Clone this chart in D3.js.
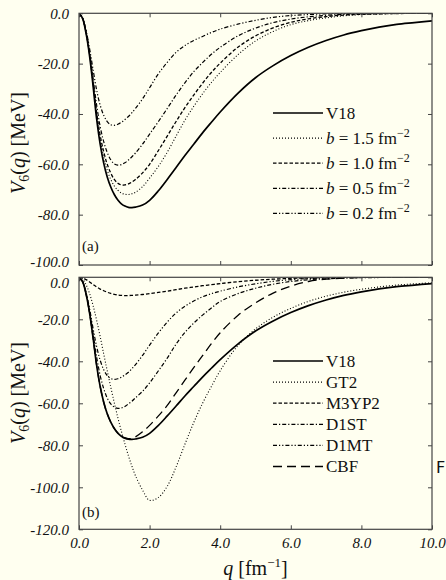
<!DOCTYPE html>
<html>
<head>
<meta charset="utf-8">
<script src="https://cdn.jsdelivr.net/npm/d3@7"></script>
<style>
  html, body { margin: 0; padding: 0; background: #fffff0; }
  svg { display: block; }
  text { font-family: "Liberation Serif", "DejaVu Serif", serif; fill: #111; }
</style>
</head>
<body>
<div id="chart"></div>
<script>
// momentum grid (fm^-1), shared by every curve
const q = [0, 0.1, 0.2, 0.3, 0.4, 0.5, 0.6, 0.7, 0.8, 0.9, 1.0, 1.1, 1.2, 1.3, 1.4, 1.5, 1.6, 1.8, 2.0,
  2.25, 2.5, 2.75, 3.0, 3.25, 3.5, 3.75, 4.0, 4.5, 5.0, 5.5, 6.0, 6.5, 7.0, 7.5, 8.0, 8.5, 9.0, 9.5, 10];

// V6(q) in MeV
const v18 = [0, -2, -8, -17, -29, -42, -52, -59.5, -65, -69, -72, -74.2, -75.7, -76.6, -77.1, -77.2, -77.0, -76.2, -74.3,
  -70.5, -66, -61.3, -56.5, -52, -47.5, -43.3, -39.2, -31.8, -25.6, -20.8, -16.8, -13.5, -10.8, -8.6, -6.9, -5.5, -4.4, -3.7, -3.0];

// panel (a): V18 with different b
const b15 = [0, -2, -7.8, -16.5, -28, -40.5, -50, -57, -62.3, -66, -68.6, -70.3, -71.4, -71.9, -72, -71.7, -71.1, -68.9, -65.5,
  -60.8, -55.2, -48.8, -42.5, -37, -32, -27.5, -23.5, -16.5, -11, -7.2, -4.5, -2.9, -1.8, -1.0, -0.5, -0.3, -0.1, 0, 0];
const b10 = [0, -2, -7.6, -16.2, -27.5, -39.5, -48.5, -55, -60, -63.5, -66, -67.5, -68.2, -68.2, -67.8, -67, -66, -63.4, -60,
  -54.5, -48.8, -43, -37.5, -32.5, -27.8, -23.5, -19.8, -13.5, -9, -5.8, -3.6, -2.2, -1.3, -0.7, -0.4, -0.2, -0.1, 0, 0];
const b05 = [0, -2, -7.3, -15.5, -26, -36.5, -45, -51, -55.3, -58.2, -59.8, -60.3, -60.1, -59.4, -58.3, -57, -55.5, -52, -48,
  -43, -37.8, -32.5, -27.6, -23.2, -19.6, -16.3, -13.5, -9, -5.9, -3.7, -2.3, -1.4, -0.8, -0.4, -0.2, -0.1, 0, 0, 0];
const b02 = [0, -1.8, -6.8, -14, -22.5, -30.5, -36.5, -40.5, -43, -44.3, -44.5, -44.1, -43.3, -42.2, -41, -39.5, -37.8, -34, -29.6,
  -24, -19.5, -15.5, -12.8, -10.8, -9.2, -7.6, -6.3, -4.3, -2.8, -1.6, -0.9, -0.5, -0.2, -0.1, 0, 0, 0, 0, 0];

// panel (b): other interactions
const gt2 = [0, -0.8, -3.5, -7.8, -13.5, -20.5, -28.2, -36.5, -44.5, -52.3, -59.8, -66.8, -73.3, -79.3, -85, -90, -94.5, -101.3, -106.2,
  -104.8, -99.5, -90.3, -79.5, -69.2, -60, -52, -44.5, -32.5, -24.6, -19, -14.8, -11.5, -9, -7.1, -5.7, -4.6, -3.7, -3.1, -2.6];
const m3yp2 = [0, -0.3, -1.1, -2.2, -3.5, -4.6, -5.6, -6.4, -7.1, -7.7, -8.1, -8.4, -8.6, -8.7, -8.7, -8.6, -8.5, -8.2, -7.8,
  -7.2, -6.6, -5.9, -5.2, -4.6, -4.0, -3.5, -3.0, -2.1, -1.4, -0.9, -0.5, -0.3, -0.1, 0, 0, 0, 0, 0, 0];
const d1st = [0, -2, -7.5, -16, -27, -38, -46.8, -53, -57.5, -60.3, -61.8, -62.4, -62.2, -61.5, -60.3, -59, -57.4, -54.3, -50.3,
  -44.5, -38.5, -31.8, -26.3, -21.8, -18, -14.6, -11.5, -7.8, -5.2, -3.3, -2.0, -1.2, -0.7, -0.4, -0.2, -0.1, 0, 0, 0];
const d1mt = [0, -2, -7.2, -15, -24.5, -33, -39.5, -44, -46.8, -48.2, -48.6, -48.3, -47.6, -46.5, -45.2, -43.5, -41.6, -37.2, -32.3,
  -26.5, -21.3, -17, -13.8, -11.3, -9.3, -7.8, -6.6, -4.6, -3.1, -1.9, -1.1, -0.6, -0.3, -0.1, 0, 0, 0, 0, 0];
const cbf = [0, -2, -8, -17, -29, -42, -52, -59.5, -65, -69, -72, -74.2, -75.7, -76.5, -76.8, -76.7, -76, -73.6, -70.5,
  -66, -61, -55, -49, -43, -37.3, -31.6, -26.4, -18.2, -12.2, -7.5, -4.2, -2.0, -0.9, -0.4, -0.1, 0, 0, 0, 0];

const xTicks = [0, 2, 4, 6, 8, 10];
const yTicksA = [0, -20, -40, -60, -80, -100];
const yTicksB = [0, -20, -40, -60, -80, -100, -120];

const width = 446, height = 580;
const left = 79, right = 432;

const svg = d3.select("#chart").append("svg")
  .attr("width", width)
  .attr("height", height);

svg.append("rect").attr("width", width).attr("height", height).attr("fill", "#fffff0");

const x = d3.scaleLinear().domain([0, 10]).range([left, right]);

// dash patterns for the line styles
const styles = {
  solid: { dash: null, w: 1.7 },
  dot: { dash: "1,2", w: 1.1 },
  dash: { dash: "3.5,2", w: 1.3 },
  dashdot: { dash: "4,2,1.2,2", w: 1.2 },
  dashdotdot: { dash: "4,2,1.2,2,1.2,2", w: 1.2 },
  longdash: { dash: "9,5", w: 1.3 }
};

const panels = [
  {
    id: "a", top: 13.3, bottom: 265, domain: [-100, 0], ticks: yTicksA, titleY: 143, tag: "(a)", tagY: 251,
    legendY: 113, legendStep: 25.1, showX: false,
    series: [
      { name: "V18", v: v18, style: "solid" },
      { name: ["b", " = 1.5 fm", "−2"], v: b15, style: "dot" },
      { name: ["b", " = 1.0 fm", "−2"], v: b10, style: "dash" },
      { name: ["b", " = 0.5 fm", "−2"], v: b05, style: "dashdot" },
      { name: ["b", " = 0.2 fm", "−2"], v: b02, style: "dashdotdot" }
    ]
  },
  {
    id: "b", top: 277.3, bottom: 529.3, domain: [-120, 0], ticks: yTicksB, titleY: 393, tag: "(b)", tagY: 517,
    legendY: 361, legendStep: 21.1, showX: true,
    series: [
      { name: "V18", v: v18, style: "solid" },
      { name: "GT2", v: gt2, style: "dot" },
      { name: "M3YP2", v: m3yp2, style: "dash" },
      { name: "D1ST", v: d1st, style: "dashdot" },
      { name: "D1MT", v: d1mt, style: "dashdotdot" },
      { name: "CBF", v: cbf, style: "longdash" }
    ]
  }
];

panels.forEach(p => {
  const y = d3.scaleLinear().domain(p.domain).range([p.bottom, p.top]);
  const g = svg.append("g").attr("id", "panel-" + p.id);

  g.append("clipPath").attr("id", "clip-" + p.id)
    .append("rect")
    .attr("x", left).attr("y", p.top)
    .attr("width", right - left).attr("height", p.bottom - p.top);

  // curves
  const line = d3.line()
    .x((d, i) => x(q[i]))
    .y(d => y(d))
    .curve(d3.curveCatmullRom.alpha(0.5));

  g.append("g").attr("clip-path", `url(#clip-${p.id})`)
    .selectAll("path")
    .data(p.series.slice().reverse())
    .join("path")
    .attr("fill", "none")
    .attr("stroke", "#000")
    .attr("stroke-width", d => styles[d.style].w)
    .attr("stroke-dasharray", d => styles[d.style].dash)
    .attr("d", d => line(d.v));

  // inward ticks on all four sides
  const axisStyle = sel => {
    sel.attr("font-family", null);
    sel.select(".domain").remove();
    sel.selectAll(".tick line").attr("stroke", "#444").attr("stroke-width", 1);
    sel.selectAll(".tick text")
      .style("font-family", "'Liberation Serif', serif")
      .style("font-style", "italic")
      .attr("font-size", 15)
      .attr("fill", "#111");
  };

  g.append("g")
    .attr("transform", `translate(${left},0)`)
    .call(d3.axisLeft(y).tickValues(p.ticks).tickSize(-4).tickPadding(10).tickFormat(d => d.toFixed(1)))
    .call(axisStyle)
    .call(a => a.selectAll(".tick text")
      .attr("dy", d => {
        if (p.id === "a" && d === -100) return "0.12em";
        if (p.id === "b" && d === 0) return "0.68em";
        return "0.32em";
      }));

  g.append("g")
    .attr("transform", `translate(${right},0)`)
    .call(d3.axisRight(y).tickValues(p.ticks).tickSize(-4).tickFormat(""))
    .call(axisStyle);

  g.append("g")
    .attr("transform", `translate(0,${p.top})`)
    .call(d3.axisTop(x).tickValues(xTicks).tickSize(-4).tickFormat(""))
    .call(axisStyle);

  g.append("g")
    .attr("transform", `translate(0,${p.bottom})`)
    .call(d3.axisBottom(x).tickValues(xTicks).tickSize(-4).tickPadding(8)
      .tickFormat(p.showX ? (d => d.toFixed(1)) : ""))
    .call(axisStyle);

  // frame
  g.append("rect")
    .attr("x", left).attr("y", p.top)
    .attr("width", right - left).attr("height", p.bottom - p.top)
    .attr("fill", "none")
    .attr("stroke", "#444")
    .attr("stroke-width", 1.2);

  // y title  V_6(q) [MeV]
  const t = g.append("text")
    .attr("transform", `translate(25,${p.titleY}) rotate(-90)`)
    .attr("text-anchor", "middle")
    .attr("font-size", 20);
  t.append("tspan").attr("font-style", "italic").text("V");
  t.append("tspan").attr("font-size", 14).attr("dy", 4).text("6");
  t.append("tspan").attr("dy", -4).text("(");
  t.append("tspan").attr("font-style", "italic").text("q");
  t.append("tspan").text(") [MeV]");

  // panel tag
  g.append("text")
    .attr("x", 82).attr("y", p.tagY)
    .attr("font-size", 15)
    .text(p.tag);

  // legend
  const leg = g.append("g")
    .selectAll("g")
    .data(p.series)
    .join("g")
    .attr("transform", (d, i) => `translate(0,${p.legendY + i * p.legendStep})`);

  leg.append("line")
    .attr("x1", 273).attr("x2", 323)
    .attr("stroke", "#000")
    .attr("stroke-width", d => styles[d.style].w)
    .attr("stroke-dasharray", d => styles[d.style].dash);

  leg.append("text")
    .attr("x", 326)
    .attr("dy", "0.34em")
    .attr("font-size", 17)
    .each(function (d) {
      const el = d3.select(this);
      if (typeof d.name === "string") {
        el.text(d.name);
      } else {
        el.append("tspan").attr("font-style", "italic").text(d.name[0]);
        el.append("tspan").text(d.name[1]);
        el.append("tspan").attr("font-size", 12).attr("dy", -7).text(d.name[2]);
      }
    });
});

// x title  q [fm^-1]
const xt = svg.append("text")
  .attr("x", (left + right) / 2)
  .attr("y", 575)
  .attr("text-anchor", "middle")
  .attr("font-size", 20);
xt.append("tspan").attr("font-style", "italic").text("q");
xt.append("tspan").text(" [fm");
xt.append("tspan").attr("font-size", 13).attr("dy", -8).text("−1");
xt.append("tspan").attr("dy", 8).text("]");

// glyph at the right edge of the source image
svg.append("text")
  .attr("x", 436)
  .attr("y", 473)
  .style("font-family", "'DejaVu Sans', sans-serif")
  .attr("font-size", 16)
  .attr("fill", "#222")
  .text("F");
</script>
</body>
</html>
